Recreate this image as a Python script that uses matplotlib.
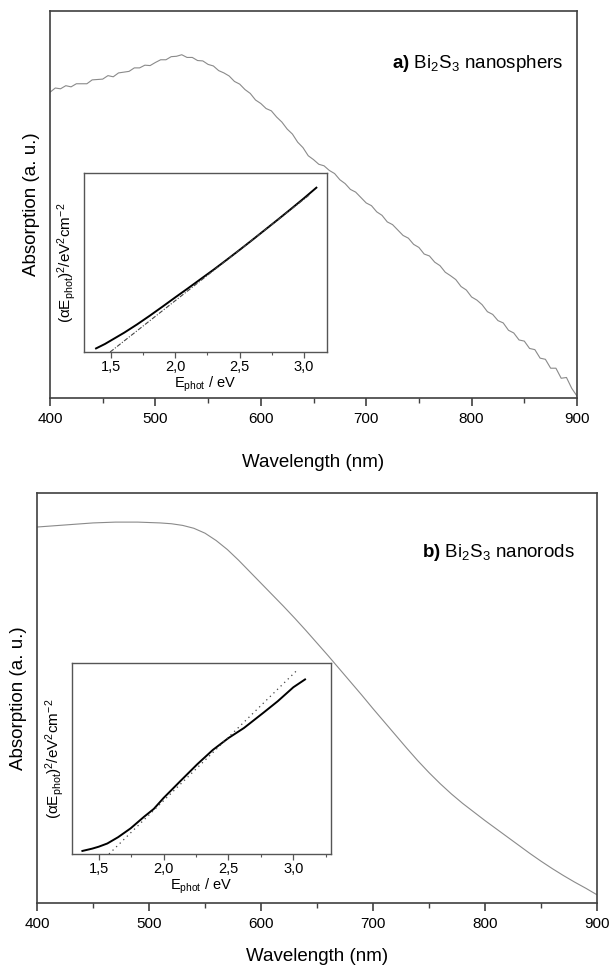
import numpy as np
import matplotlib
matplotlib.use("Agg")
import matplotlib.pyplot as plt
from matplotlib.ticker import MultipleLocator, FixedLocator, NullLocator

plt.rcParams['font.family'] = ['Liberation Sans', 'DejaVu Sans']
plt.rcParams['mathtext.fontset'] = 'custom'
plt.rcParams['mathtext.rm'] = 'Liberation Sans'
plt.rcParams['mathtext.it'] = 'Liberation Sans:italic'
plt.rcParams['mathtext.bf'] = 'Liberation Sans:bold'

# ---------------- data ----------------
# panel a: Bi2S3 nanospheres, absorption vs wavelength (5 nm steps)
wl_a = list(range(400, 901, 5))
abs_a = [0.790, 0.801, 0.799, 0.807, 0.804, 0.812, 0.812, 0.812, 0.822, 0.823,
         0.824, 0.833, 0.830, 0.840, 0.842, 0.844, 0.853, 0.853, 0.860, 0.859,
         0.867, 0.874, 0.874, 0.882, 0.883, 0.887, 0.880, 0.880, 0.872, 0.871,
         0.862, 0.858, 0.846, 0.840, 0.832, 0.818, 0.811, 0.797, 0.787, 0.770,
         0.761, 0.748, 0.742, 0.726, 0.713, 0.695, 0.682, 0.661, 0.647, 0.626,
         0.616, 0.604, 0.600, 0.588, 0.580, 0.564, 0.554, 0.539, 0.532, 0.518,
         0.504, 0.497, 0.481, 0.472, 0.455, 0.448, 0.434, 0.420, 0.413, 0.397,
         0.389, 0.372, 0.367, 0.351, 0.342, 0.325, 0.316, 0.306, 0.288, 0.279,
         0.261, 0.253, 0.241, 0.223, 0.216, 0.200, 0.194, 0.175, 0.168, 0.150,
         0.147, 0.128, 0.125, 0.103, 0.100, 0.077, 0.077, 0.051, 0.053, 0.025,
         0.005]

# panel b: Bi2S3 nanorods, absorption vs wavelength (10 nm steps)
wl_b = list(range(400, 901, 10))
abs_b = [0.917, 0.919, 0.921, 0.923, 0.925, 0.927, 0.928, 0.929, 0.929, 0.929,
         0.928, 0.927, 0.925, 0.921, 0.914, 0.902, 0.884, 0.862, 0.836, 0.808,
         0.780, 0.752, 0.724, 0.695, 0.665, 0.634, 0.603, 0.571, 0.539, 0.507,
         0.474, 0.442, 0.410, 0.378, 0.347, 0.318, 0.291, 0.266, 0.243, 0.222,
         0.201, 0.181, 0.161, 0.141, 0.121, 0.102, 0.084, 0.067, 0.051, 0.036,
         0.020]

# insets: Tauc plots (alpha*E)^2 vs photon energy
e_a = [1.38, 1.45, 1.5, 1.6, 1.7, 1.8, 1.9, 2.0, 2.1, 2.2, 2.3, 2.4, 2.5,
       2.6, 2.7, 2.8, 2.9, 3.0, 3.1]
t_a = [0.020, 0.045, 0.066, 0.108, 0.154, 0.203, 0.254, 0.306, 0.357, 0.409,
       0.461, 0.515, 0.570, 0.626, 0.683, 0.740, 0.798, 0.857, 0.918]
fit_a_e = [1.49, 3.05]
fit_a_t = [0.0, 0.88]

e_b = [1.375, 1.45, 1.5, 1.567, 1.65, 1.746, 1.85, 1.925, 2.0, 2.13, 2.26,
       2.38, 2.5, 2.62, 2.77, 2.88, 3.0, 3.09]
t_b = [0.016, 0.028, 0.038, 0.055, 0.088, 0.134, 0.195, 0.236, 0.293, 0.382,
       0.470, 0.545, 0.607, 0.660, 0.740, 0.800, 0.873, 0.914]
fit_b_e = [1.58, 3.03]
fit_b_t = [0.0, 0.963]

wl_ticks = [400, 500, 600, 700, 800, 900]
e_ticks = [1.5, 2.0, 2.5, 3.0]
e_ticklabels = ['1,5', '2,0', '2,5', '3,0']

# ---------------- figure ----------------
W, H = 611, 967
fig = plt.figure(figsize=(W / 100, H / 100), dpi=100)

def frac(l, t, r, b):
    return [l / W, 1 - b / H, (r - l) / W, (b - t) / H]

SP = '#404040'
CURVE = '#8a8a8a'

def style_main(ax, xpad):
    for s in ax.spines.values():
        s.set_color(SP)
        s.set_linewidth(1.2)
    ax.set_xlim(400, 900)
    ax.set_ylim(0, 1)
    ax.xaxis.set_major_locator(FixedLocator(wl_ticks))
    ax.xaxis.set_minor_locator(MultipleLocator(50))
    ax.yaxis.set_major_locator(NullLocator())
    ax.tick_params(axis='x', which='major', direction='out', length=6,
                   width=1.2, color=SP, labelsize=11, pad=4, top=False)
    ax.tick_params(axis='x', which='minor', direction='out', length=3.5,
                   width=1.0, color=SP, top=False)
    ax.set_xlabel('Wavelength (nm)', fontsize=13.5, labelpad=xpad)
    ax.set_ylabel('Absorption (a. u.)', fontsize=13.5, labelpad=7)

def style_inset(ax, xlim):
    for s in ax.spines.values():
        s.set_color('#555555')
        s.set_linewidth(1.0)
    ax.set_xlim(*xlim)
    ax.set_ylim(0, 1)
    ax.xaxis.set_major_locator(FixedLocator(e_ticks))
    ax.set_xticklabels(e_ticklabels)
    ax.xaxis.set_minor_locator(MultipleLocator(0.25))
    ax.yaxis.set_major_locator(NullLocator())
    ax.tick_params(axis='x', which='major', direction='out', length=4,
                   width=0.9, color='#555555', labelsize=10.5, pad=2)
    ax.tick_params(axis='x', which='minor', direction='out', length=2.5,
                   width=0.8, color='#555555')
    ax.set_xlabel(r'E$_{\mathrm{phot}}$ / eV', fontsize=10.5, labelpad=0)
    ax.set_ylabel(r'($\mathrm{\alpha}$E$_{\mathrm{phot}}$)$^2$/eV$^2$cm$^{-2}$',
                  fontsize=11, labelpad=4)

# panel a
ax1 = fig.add_axes(frac(50, 11, 577, 398))
ax1.plot(wl_a, abs_a, color=CURVE, lw=0.8)
style_main(ax1, 20)
ax1.text(0.975, 0.865, r'$\mathbf{a)}$ Bi$_2$S$_3$ nanosphers', transform=ax1.transAxes,
         ha='right', va='center', fontsize=13.5)

ins1 = fig.add_axes(frac(84, 173, 327, 352))
ins1.plot(e_a, t_a, color='black', lw=1.4)
ins1.plot(fit_a_e, fit_a_t, color='#444444', lw=0.8, ls=(0, (4, 1.5, 1, 1.5)))
style_inset(ins1, (1.286, 3.183))

# panel b
ax2 = fig.add_axes(frac(37, 493, 597, 903))
ax2.plot(wl_b, abs_b, color=CURVE, lw=0.8)
style_main(ax2, 12)
ax2.text(0.96, 0.855, r'$\mathbf{b)}$ Bi$_2$S$_3$ nanorods', transform=ax2.transAxes,
         ha='right', va='center', fontsize=13.5)

ins2 = fig.add_axes(frac(72, 663, 331, 854))
ins2.plot(e_b, t_b, color='black', lw=1.4)
ins2.plot(fit_b_e, fit_b_t, color='#444444', lw=0.9, ls=(0, (1, 3)))
style_inset(ins2, (1.295, 3.29))

fig.savefig('out.png', dpi=100)
